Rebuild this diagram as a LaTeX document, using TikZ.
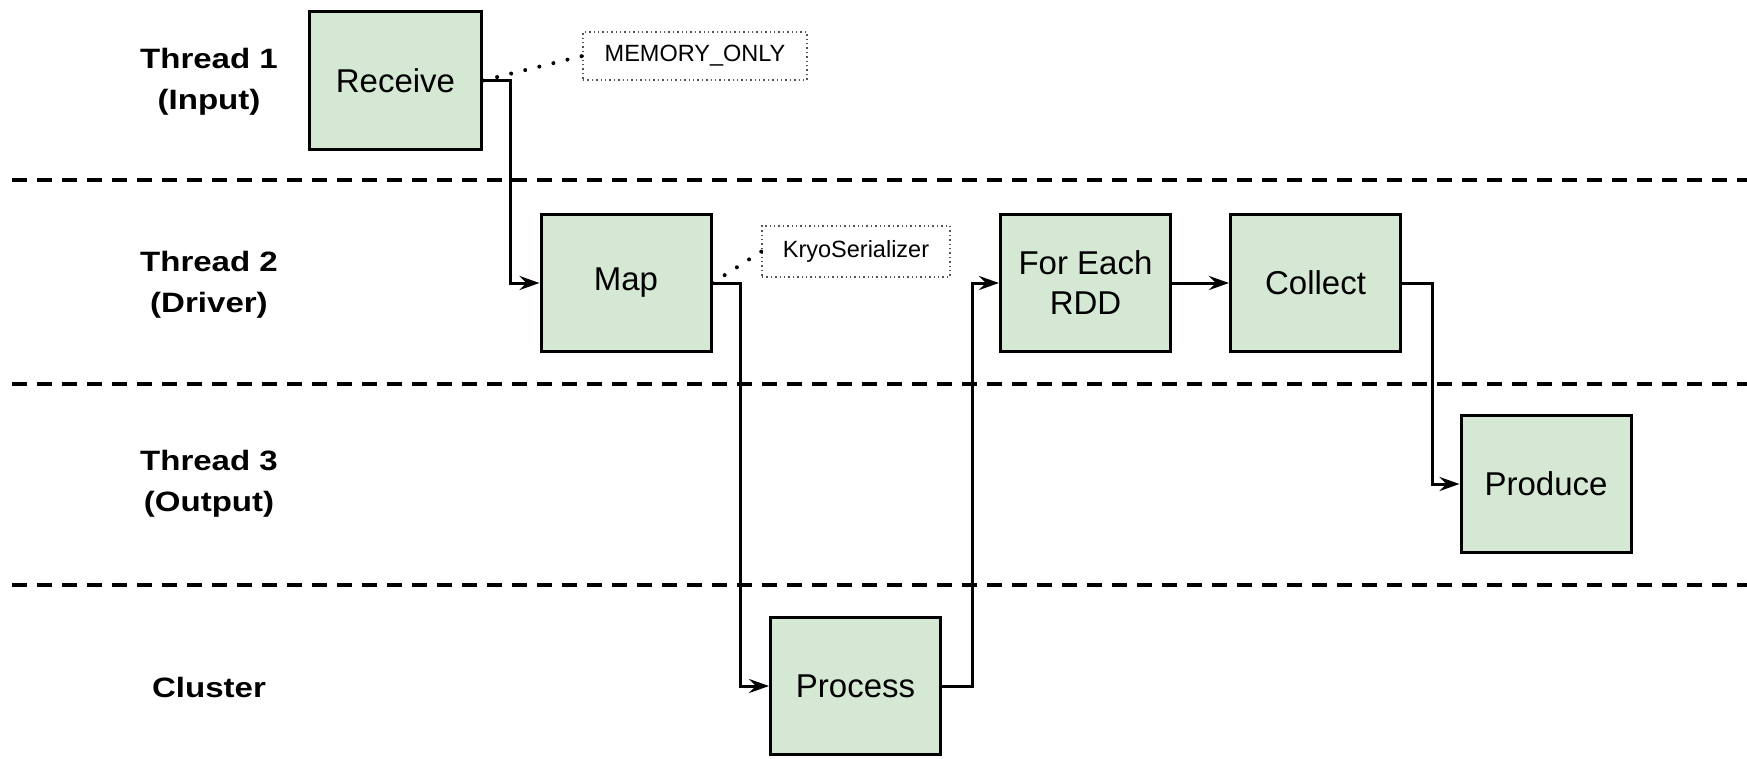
\documentclass[tikz,border=0pt]{standalone}
\usepackage{fontspec}
\setmainfont{Liberation Sans}
\usetikzlibrary{arrows.meta}
\definecolor{boxgreen}{HTML}{D5E8D4}
\definecolor{notegray}{HTML}{555555}

\begin{document}
\begin{tikzpicture}[x=1pt,y=-1pt,
  stage/.style={draw=black, line width=3pt, fill=boxgreen, inner sep=0pt,
    minimum width=170pt, minimum height=137pt,
    align=center, font=\fontsize{33}{40}\selectfont},
  note/.style={draw=notegray, line width=1.4pt, dash pattern=on 1.4pt off 3pt,
    fill=white, inner sep=0pt, font=\fontsize{23.5}{28}\selectfont},
  lane/.style={align=center, font=\fontsize{28}{41}\selectfont\bfseries},
  flow/.style={line width=3pt, -{Stealth[length=20pt,width=14pt,inset=7pt]}},
  hint/.style={line width=4pt, line cap=round, dash pattern=on 0pt off 14.5pt},
  divider/.style={line width=4pt, dash pattern=on 15pt off 10pt}]
\useasboundingbox (0,0) rectangle (1747,758);

% swim-lane dividers
\draw[divider] (12,180) -- (1747,180);
\draw[divider] (12,384) -- (1747,384);
\draw[divider] (12,585) -- (1747,585);

% lane titles
\node[lane] (t1) at (209,82) {\scalebox{1.18}[1]{Thread 1}\\\scalebox{1.18}[1]{(Input)}};
\node[lane] (t2) at (209,285) {\scalebox{1.18}[1]{Thread 2}\\\scalebox{1.18}[1]{(Driver)}};
\node[lane] (t3) at (209,484) {\scalebox{1.18}[1]{Thread 3}\\\scalebox{1.18}[1]{(Output)}};
\node[lane] (t4) at (209,687) {\scalebox{1.18}[1]{Cluster}};

% processing stages
\node[stage, minimum width=172pt, minimum height=138pt] (recv) at (395.5,80.5) {Receive};
\node[stage] (map) at (626,283) {Map};
\node[stage] (proc) at (855.5,686) {Process};
\node[stage] (each) at (1085.5,283) {For Each\\RDD};
\node[stage] (coll) at (1315.5,283) {Collect};
\node[stage] (prod) at (1546,484) {Produce};

% annotations
\node[note, minimum width=224pt, minimum height=48pt] (mem) at (695,56) {MEMORY\_ONLY};
\node[note, minimum width=188pt, minimum height=51pt] (kryo) at (856,251.5) {KryoSerializer};
\draw[hint] (recv.east) -- (mem.west);
\draw[hint] (map.east) -- (kryo.west);

% data flow
\draw[flow] (recv.east) -- ++(27,0) |- (map.west);
\draw[flow] (map.east) -- ++(28,0) |- (proc.west);
\draw[flow] (proc.east) -- ++(30,0) |- (each.west);
\draw[flow] (each.east) -- (coll.west);
\draw[flow] (coll.east) -- ++(30,0) |- (prod.west);
\end{tikzpicture}
\end{document}
